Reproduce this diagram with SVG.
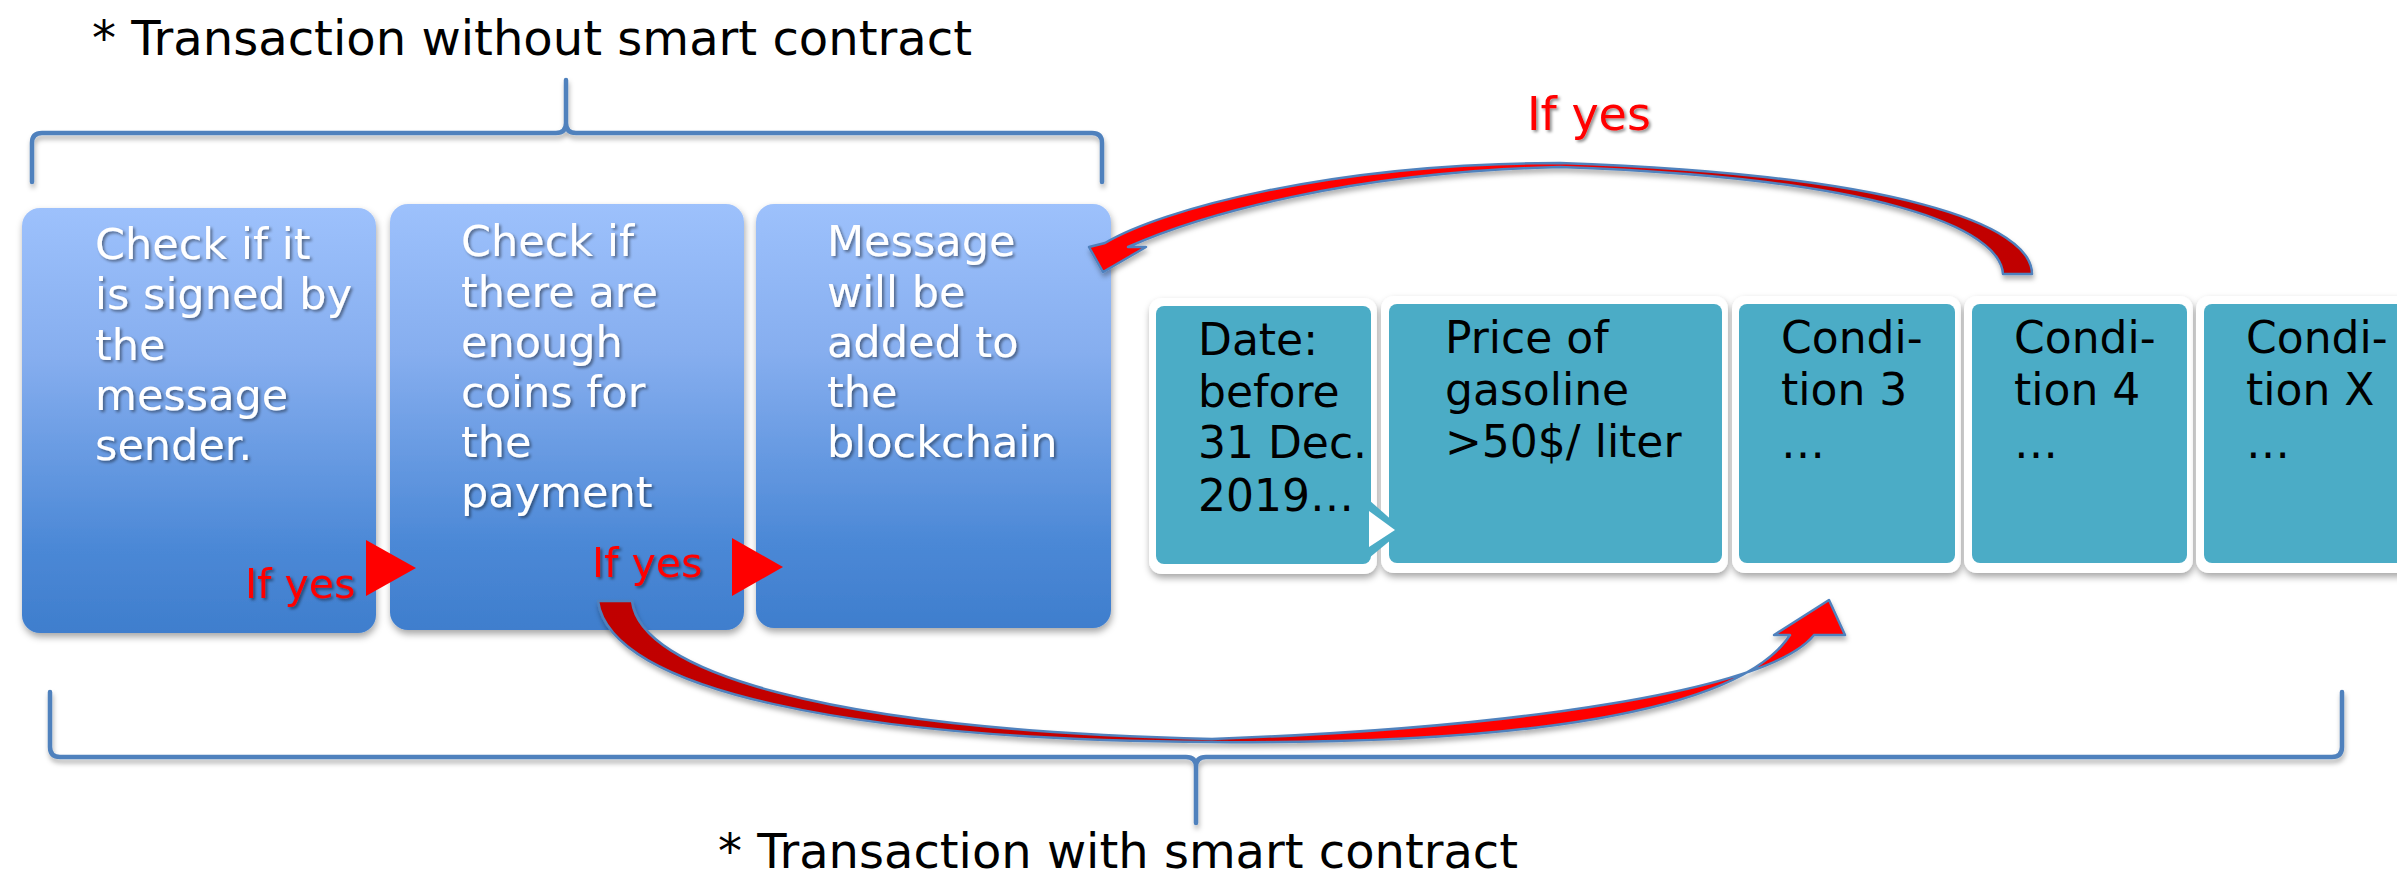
<svg xmlns="http://www.w3.org/2000/svg" width="2397" height="880" viewBox="0 0 2397 880">
  <defs>
    <linearGradient id="stepFill" x1="0" y1="0" x2="0" y2="1">
      <stop offset="0" stop-color="#9DC1FC"/>
      <stop offset="0.35" stop-color="#86AEEF"/>
      <stop offset="0.8" stop-color="#4B88D6"/>
      <stop offset="1" stop-color="#3F7ECD"/>
    </linearGradient>
    <linearGradient id="loopTop" gradientUnits="userSpaceOnUse" x1="1090" y1="0" x2="2035" y2="0">
      <stop offset="0" stop-color="#FF0000"/>
      <stop offset="0.48" stop-color="#FF0000"/>
      <stop offset="0.66" stop-color="#C80000"/>
      <stop offset="1" stop-color="#C00000"/>
    </linearGradient>
    <linearGradient id="loopBottom" gradientUnits="userSpaceOnUse" x1="595" y1="0" x2="1850" y2="0">
      <stop offset="0" stop-color="#C00000"/>
      <stop offset="0.5" stop-color="#C80000"/>
      <stop offset="0.62" stop-color="#FF0000"/>
      <stop offset="1" stop-color="#FF0000"/>
    </linearGradient>
    <filter id="softShadow" x="-10%" y="-10%" width="120%" height="130%">
      <feDropShadow dx="1" dy="4" stdDeviation="3.5" flood-color="#000" flood-opacity="0.35"/>
    </filter>
    <filter id="lineShadow" x="-5%" y="-20%" width="110%" height="160%">
      <feDropShadow dx="1" dy="4" stdDeviation="2.5" flood-color="#000" flood-opacity="0.3"/>
    </filter>
    <filter id="textShadow" x="-10%" y="-20%" width="120%" height="150%">
      <feDropShadow dx="2" dy="2" stdDeviation="1.5" flood-color="#000" flood-opacity="0.45"/>
    </filter>
  </defs>
  <style>
    .title { font-family: "DejaVu Sans", "Liberation Sans", sans-serif; font-size: 47.5px; fill: #000; }
    .step { fill: url(#stepFill); filter: url(#softShadow); }
    .stepText { font-family: "DejaVu Sans", "Liberation Sans", sans-serif; font-size: 43px; fill: #FFFFFF; filter: url(#textShadow); }
    .frame { fill: #FFFFFF; filter: url(#softShadow); }
    .cond { fill: #4BACC6; }
    .condText { font-family: "DejaVu Sans", "Liberation Sans", sans-serif; font-size: 44px; fill: #000; }
    .brace { fill: none; stroke: #4F81BD; stroke-width: 4.5; stroke-linecap: round; filter: url(#lineShadow); }
    .yes { font-family: "DejaVu Sans", "Liberation Sans", sans-serif; font-size: 41px; fill: #FF0000; filter: url(#textShadow); }
    .pointer { fill: #FF0000; }
    .loop { stroke: #4F81BD; stroke-width: 2.5; stroke-linejoin: round; filter: url(#lineShadow); }
  </style>

  <!-- headings -->
  <text id="title-without" class="title" x="92" y="55" textLength="880" lengthAdjust="spacingAndGlyphs">* Transaction without smart contract</text>
  <text id="title-with" class="title" x="718" y="868" textLength="800" lengthAdjust="spacingAndGlyphs">* Transaction with smart contract</text>

  <!-- braces -->
  <path id="brace-top" class="brace" d="M32 182 V143 Q32 133 42 133 H556 Q566 133 566 123 V80 M566 123 Q566 133 576 133 H1092 Q1102 133 1102 143 V182"/>
  <path id="brace-bottom" class="brace" d="M50 692 V747 Q50 757 60 757 H1186 Q1196 757 1196 767 V823 M1196 767 Q1196 757 1206 757 H2332 Q2342 757 2342 747 V692"/>

  <!-- plain transaction steps -->
  <g id="step-signed">
    <rect class="step" x="22" y="208" width="354" height="425" rx="18"/>
    <text class="stepText" x="95">
      <tspan x="95" y="259">Check if it</tspan>
      <tspan x="95" y="309">is signed by</tspan>
      <tspan x="95" y="360">the</tspan>
      <tspan x="95" y="410">message</tspan>
      <tspan x="95" y="460">sender.</tspan>
    </text>
  </g>
  <g id="step-coins">
    <rect class="step" x="390" y="204" width="354" height="426" rx="18"/>
    <text class="stepText" x="461">
      <tspan x="461" y="256">Check if</tspan>
      <tspan x="461" y="307">there are</tspan>
      <tspan x="461" y="357">enough</tspan>
      <tspan x="461" y="407">coins for</tspan>
      <tspan x="461" y="457">the</tspan>
      <tspan x="461" y="507">payment</tspan>
    </text>
  </g>
  <g id="step-added">
    <rect class="step" x="756" y="204" width="355" height="424" rx="18"/>
    <text class="stepText" x="827">
      <tspan x="827" y="256">Message</tspan>
      <tspan x="827" y="307">will be</tspan>
      <tspan x="827" y="357">added to</tspan>
      <tspan x="827" y="407">the</tspan>
      <tspan x="827" y="457">blockchain</tspan>
    </text>
  </g>

  <!-- smart contract conditions -->
  <g id="cond-date">
    <rect class="frame" x="1149" y="298" width="228" height="276" rx="13"/>
    <rect class="cond" x="1156" y="306" width="215" height="258" rx="8"/>
    <text class="condText">
      <tspan x="1198" y="355">Date:</tspan>
      <tspan x="1198" y="407">before</tspan>
      <tspan x="1198" y="458">31 Dec.</tspan>
      <tspan x="1198" y="511">2019…</tspan>
    </text>
  </g>
  <g id="cond-price">
    <rect class="frame" x="1381" y="296" width="347" height="277" rx="13"/>
    <rect class="cond" x="1389" y="304" width="333" height="259" rx="8"/>
    <text class="condText">
      <tspan x="1445" y="353">Price of</tspan>
      <tspan x="1445" y="405">gasoline</tspan>
      <tspan x="1445" y="457">&gt;50$/ liter</tspan>
    </text>
  </g>
  <g id="cond-3">
    <rect class="frame" x="1732" y="296" width="229" height="277" rx="13"/>
    <rect class="cond" x="1739" y="304" width="216" height="259" rx="8"/>
    <text class="condText">
      <tspan x="1781" y="353">Condi-</tspan>
      <tspan x="1781" y="405">tion 3</tspan>
      <tspan x="1781" y="458">…</tspan>
    </text>
  </g>
  <g id="cond-4">
    <rect class="frame" x="1964" y="296" width="229" height="277" rx="13"/>
    <rect class="cond" x="1972" y="304" width="215" height="259" rx="8"/>
    <text class="condText">
      <tspan x="2014" y="353">Condi-</tspan>
      <tspan x="2014" y="405">tion 4</tspan>
      <tspan x="2014" y="458">…</tspan>
    </text>
  </g>
  <g id="cond-x">
    <rect class="frame" x="2196" y="296" width="229" height="277" rx="13"/>
    <rect class="cond" x="2204" y="304" width="215" height="259" rx="8"/>
    <text class="condText">
      <tspan x="2246" y="353">Condi-</tspan>
      <tspan x="2246" y="405">tion X</tspan>
      <tspan x="2246" y="458">…</tspan>
    </text>
  </g>

  <!-- connectors -->
  <g id="connectors">
    <!-- chevron between date and price -->
    <polygon points="1369,500 1403,530 1369,558" fill="#4BACC6"/>
    <polygon points="1369,511 1395,530 1369,547" fill="#FFFFFF"/>

    <!-- step-to-step pointers -->
    <polygon class="pointer" points="366,540 416,568 366,596"/>
    <polygon class="pointer" points="732,538 783,567 732,596"/>
    <text class="yes" x="245" y="598">If yes</text>
    <text class="yes" x="592" y="577">If yes</text>

    <!-- loop from coin check through the conditions -->
    <path class="loop" fill="url(#loopBottom)" d="M598 601 C610 690 850 740 1212 742 C1520 745 1740 712 1790 635 L1774 635 L1829 600 L1845 635 L1814 635 C1770 690 1520 728 1212 739 C820 730 640 670 632 601 Z"/>

    <!-- loop back from the conditions to the blockchain step -->
    <path class="loop" fill="url(#loopTop)" d="M2032 274 C2032 225 1900 175 1560 163 C1330 163 1160 210 1105 243 L1089 247 L1103 272 L1146 247 L1128 247 C1200 215 1350 172 1560 167 C1880 178 2000 228 2003 274 Z"/>
    <text class="yes" x="1527" y="130" style="font-size:46px">If yes</text>
  </g>
</svg>
